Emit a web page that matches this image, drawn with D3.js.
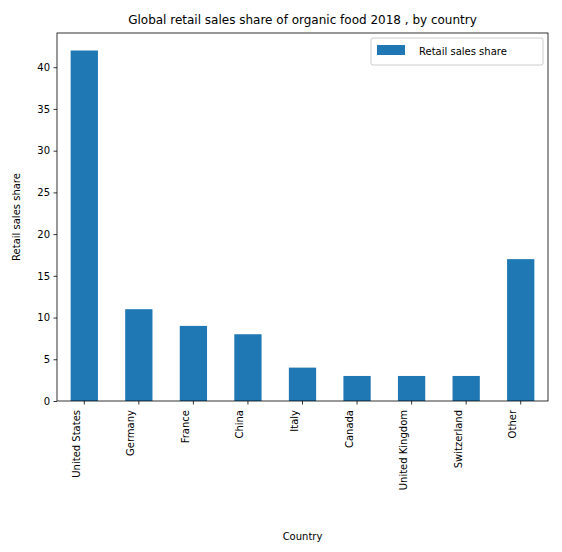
<!DOCTYPE html>
<html><head><meta charset="utf-8">
<script src="https://cdn.jsdelivr.net/npm/d3@7"></script>
<style>body{margin:0;background:#fff}text{font-family:"DejaVu Sans",sans-serif}</style>
</head><body><svg id="c" width="562" height="552"></svg>
<script>
const categories=["United States","Germany","France","China","Italy","Canada","United Kingdom","Switzerland","Other"];
const values=[42,11,9,8,4,3,3,3,17];
const yTicks=[0,5,10,15,20,25,30,35,40];
const svg=d3.select("#c");
const L=57,R=548,T=33,B=401;
const x=d3.scaleBand().domain(categories).range([L,R]).paddingInner(0.5).paddingOuter(0.25);
const y=d3.scaleLinear().domain([0,44.1]).range([B,T]);
svg.selectAll("rect.bar").data(values).enter().append("rect")
 .attr("x",(d,i)=>x(categories[i])).attr("width",x.bandwidth())
 .attr("y",d=>y(d)).attr("height",d=>B-y(d)).attr("fill","#1f77b4");
const ya=svg.append("g").attr("transform",`translate(${L},0)`).call(d3.axisLeft(y).tickValues(yTicks).tickSize(3.5).tickPadding(3.5));
const xa=svg.append("g").attr("transform",`translate(0,${B})`).call(d3.axisBottom(x).tickSize(3.5).tickPadding(3.5));
[ya,xa].forEach(a=>{a.select(".domain").remove();a.selectAll("text").attr("font-size",10).attr("fill","#000");a.selectAll("line").attr("stroke","#000").attr("stroke-width",0.8);});
xa.selectAll("text").attr("transform","rotate(-90)").attr("text-anchor","end").attr("dx","-0.6em").attr("dy","-0.45em").attr("x",-3).attr("y",0);
svg.append("rect").attr("x",L).attr("y",T).attr("width",R-L).attr("height",B-T).attr("fill","none").attr("stroke","#000").attr("stroke-width",0.8);
svg.append("text").attr("x",(L+R)/2).attr("y",T-9).attr("text-anchor","middle").attr("font-size",12).text("Global retail sales share of organic food 2018 , by country");
svg.append("text").attr("x",(L+R)/2).attr("y",540).attr("text-anchor","middle").attr("font-size",10).text("Country");
svg.append("text").attr("transform",`translate(20,${(T+B)/2}) rotate(-90)`).attr("text-anchor","middle").attr("font-size",10).text("Retail sales share");
const lg=svg.append("g");
lg.append("rect").attr("x",371).attr("y",38).attr("width",172).attr("height",27).attr("rx",2).attr("fill","#fff").attr("stroke","#ccc");
lg.append("rect").attr("x",377).attr("y",45).attr("width",28).attr("height",10).attr("fill","#1f77b4");
lg.append("text").attr("x",419).attr("y",55).attr("font-size",10).text("Retail sales share");
</script></body></html>
